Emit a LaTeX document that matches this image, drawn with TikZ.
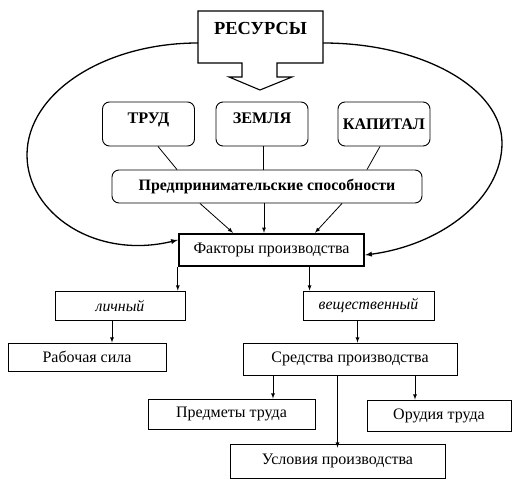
\documentclass[tikz,border=0pt]{standalone}
\usepackage{fontspec}
\setmainfont{Liberation Serif}
\usepackage{tikz}
\usetikzlibrary{shapes,arrows,positioning}

\begin{document}
\begin{tikzpicture}[x=1pt, y=-1pt]
		\tikzstyle{Res}		= [rounded corners=7pt, draw, line width=0.9pt, minimum width=92pt, minimum height=44pt, font=\fontsize{16.2}{18}\selectfont\bfseries]
		\tikzstyle{Box}		= [rectangle, draw, line width=0.9pt, inner sep=0pt, font=\fontsize{16}{18}\selectfont]
		\tikzstyle{Main}	= [Box, line width=2.4pt]
		\tikzstyle{Kind}	= [Box, font=\fontsize{15.8}{18}\selectfont\itshape]
		\tikzstyle{Link}	= [line width=0.8pt]
		\tikzstyle{Arr}		= [-latex, line width=0.8pt]
		\tikzstyle{Loop}	= [-latex, line width=1.3pt]

		\useasboundingbox (0,0) rectangle (527,489);

		% resources block arrow
		\draw [line width=1.1pt] (198,63) -- (198,11) -- (323,11) -- (323,63) -- (277,63) -- (277,77) -- (292,77)
			-- (260,90) -- (229,77) -- (242,77) -- (242,63) -- cycle;
		\node (res) at (260.5, 29) [font=\fontsize{18.4}{20}\selectfont\bfseries] {РЕСУРСЫ};
		\coordinate (rl) at (198,43);
		\coordinate (rr) at (323,43);

		\node (trud) at (148.5, 124) [Res, text depth=11pt] {ТРУД};
		\node (zemlya) at (262, 124) [Res, text depth=11pt] {ЗЕМЛЯ};
		\node (kapital) at (384, 124) [Res] {КАПИТАЛ};
		\node (predpr) at (267, 186.5) [Res, minimum width=310pt, minimum height=33pt, font=\fontsize{15.9}{18}\selectfont\bfseries] {Предпринимательские способности};

		\node (factors) at (271.5, 250) [Main, minimum width=185pt, minimum height=32pt] {Факторы производства};

		\node (lichny) at (120, 305.5) [Kind, minimum width=130pt, minimum height=29pt] {личный};
		\node (vesch) at (368.5, 305.5) [Kind, minimum width=131pt, minimum height=29pt] {вещественный};
		\node (rab) at (87, 357) [Box, minimum width=158pt, minimum height=28pt] {Рабочая сила};
		\node (sredstva) at (350, 359) [Box, minimum width=214pt, minimum height=32pt] {Средства производства};
		\node (predmety) at (231.5, 414) [Box, minimum width=167pt, minimum height=30pt] {Предметы труда};
		\node (orudia) at (439, 415.5) [Box, minimum width=144pt, minimum height=31pt] {Орудия труда};
		\node (uslovia) at (337.5, 461) [Box, minimum width=215pt, minimum height=34pt] {Условия производства};

		% the loop round the resources
		\draw [Loop] (rl) .. controls (104,43) and (27,93) .. (27,155)
			.. controls (27,213) and (95,260) .. ([yshift=10]factors.west);
		\draw [Loop] (rr) .. controls (422,43) and (502,88) .. (502,143)
			.. controls (502,199) and (441,245) .. ([yshift=-5]factors.east);

		\draw [Link] ([xshift=9.5]trud.south) to ([xshift=-90]predpr.north);
		\draw [Link] ([xshift=1]zemlya.south) to ([xshift=-4]predpr.north);
		\draw [Link] ([xshift=-4]kapital.south) to ([xshift=100]predpr.north);
		\draw [Arr] ([xshift=-67]predpr.south) to ([xshift=-38.5]factors.north);
		\draw [Arr] ([xshift=-3]predpr.south) to ([xshift=-7.5]factors.north);
		\draw [Arr] ([xshift=75]predpr.south) to ([xshift=43.5]factors.north);

		\draw [Arr] (factors.south west) -- (factors.south west |- lichny.north);
		\draw [Arr] ([xshift=7]vesch.north west |- factors.south) -- ([xshift=7]vesch.north west);
		\draw [Arr] ([xshift=-8]lichny.south) -- ([xshift=-8]lichny.south |- rab.north);
		\draw [Arr] ([xshift=-11]vesch.south) -- ([xshift=-11]vesch.south |- sredstva.north);
		\draw [Arr] ([xshift=41.5]predmety.north |- sredstva.south) -- ([xshift=41.5]predmety.north);
		\draw [Arr] ([xshift=-24]orudia.north |- sredstva.south) -- ([xshift=-24]orudia.north);
		\draw [Arr] (uslovia.north |- sredstva.south) -- ([yshift=-4]uslovia.north);
	\end{tikzpicture}
\end{document}
